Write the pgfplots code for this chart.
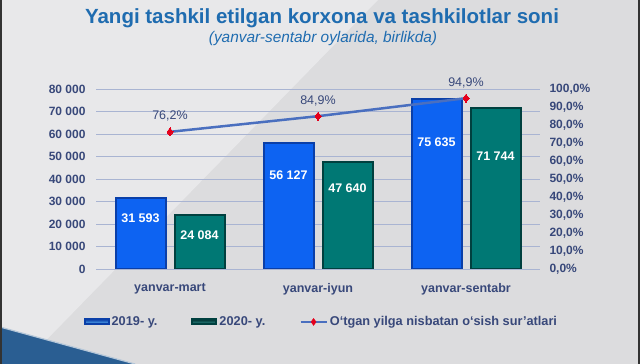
\documentclass[border=0pt]{standalone}
\usepackage{pgfplots}
\pgfplotsset{compat=1.18}
\usepackage{fontspec}
\setmainfont{Liberation Sans}
\definecolor{bg}{HTML}{DCDCDE}
\definecolor{bglight}{HTML}{E8E8EA}
\definecolor{deco}{HTML}{2A5E92}
\definecolor{titleblue}{HTML}{1F6CB0}
\definecolor{tickc}{HTML}{38487A}
\definecolor{gridc}{HTML}{A9B4D2}
\definecolor{blueface}{HTML}{0D63F2}
\definecolor{blueedge}{HTML}{0A3FA8}
\definecolor{tealface}{HTML}{007874}
\definecolor{tealedge}{HTML}{00403F}
\definecolor{linec}{HTML}{4A6FBF}
\definecolor{markc}{HTML}{E4001C}

\pgfplotstableread{
x y off
0 31593 -29.5
1 56127 -41.5
2 75635 -52.5
}\tabA
\pgfplotstableread{
x y off
0 24084 -29.5
1 47640 -35.5
2 71744 -57.5
}\tabB

\begin{document}
\begin{tikzpicture}
\useasboundingbox (0pt,0pt) rectangle (640pt,364pt);
\fill[bg] (0pt,0pt) rectangle (640pt,364pt);
\fill[bglight] (0pt,364pt) -- (378pt,364pt) -- (23pt,0pt) -- (0pt,0pt) -- cycle;
\fill[deco] (0pt,37pt) -- (135pt,0pt) -- (0pt,0pt) -- cycle;
\draw[white!65!deco, line width=1.2pt] (0pt,37pt) -- (135pt,0pt);
\fill[black!80] (0pt,0pt) rectangle (2pt,364pt);
\fill[black!80] (638pt,0pt) rectangle (640pt,364pt);
\node[font=\bfseries\fontsize{20.5}{23}\selectfont, text=titleblue] at (322pt,345.5pt) {Yangi tashkil etilgan korxona va tashkilotlar soni};
\node[font=\itshape\fontsize{15.4}{17}\selectfont, text=titleblue] at (323pt,325pt) {(yanvar-sentabr oylarida, birlikda)};

\begin{axis}[
  at={(96pt,95pt)}, anchor=south west,
  scale only axis, width=444pt, height=180pt,
  ybar=9pt, bar width=50pt,
  xmin=-0.5, xmax=2.5,
  ymin=0, ymax=80000,
  xtick={0,1,2},
  xticklabels={yanvar-mart,yanvar-iyun,yanvar-sentabr},
  ytick={0,10000,...,80000},
  scaled y ticks=false,
  /pgf/number format/assume math mode=true,
  /pgf/number format/1000 sep={\ },
  axis line style={draw=none},
  major tick length=0pt,
  ymajorgrids, grid style={gridc, line width=0.9pt},
  yticklabel style={font=\bfseries\fontsize{12}{14}\selectfont, text=tickc, xshift=-7pt},
  xticklabel style={font=\bfseries\fontsize{12.5}{14}\selectfont, text=tickc, yshift=-11pt},
  nodes near coords={\pgfmathprintnumber{\pgfplotspointmeta}},
  visualization depends on={\thisrow{off}\as\off},
  every node near coord/.append style={font=\bfseries\fontsize{12.5}{14}\selectfont, text=white, yshift=\off},
  legend columns=3,
  legend style={at={(-0.035,-0.294)}, anchor=west, draw=none, fill=none,
    font=\bfseries\fontsize{12.75}{14}\selectfont, text=tickc,
    /tikz/every even column/.append style={column sep=32pt},
    /tikz/every odd column/.append style={column sep=0pt}},
]
\addplot[fill=blueface, draw=blueedge, line width=2pt,
  legend image code/.code={\shade[top color=blueedge, bottom color=blue!40!cyan!60] (0pt,-2.5pt) rectangle (24pt,2.5pt);}]
  table[x=x,y=y] {\tabA};
\addlegendentry{2019- y.}
\addplot[fill=tealface, draw=tealedge, line width=2pt,
  legend image code/.code={\shade[top color=tealedge!80!black, bottom color=tealface!80] (0pt,-2.5pt) rectangle (24pt,2.5pt);}]
  table[x=x,y=y] {\tabB};
\addlegendentry{2020- y.}
\addlegendimage{legend image code/.code={
  \draw[linec, line width=2.5pt] (0pt,0pt) -- (26pt,0pt);
  \fill[markc] (13pt,3.5pt) -- (15.5pt,0pt) -- (13pt,-3.5pt) -- (10.5pt,0pt) -- cycle;}}
\addlegendentry{O‘tgan yilga nisbatan o‘sish sur’atlari}
\end{axis}

\begin{axis}[
  at={(96pt,95pt)}, anchor=south west,
  scale only axis, width=444pt, height=180pt,
  xmin=-0.5, xmax=2.5,
  ymin=0, ymax=100,
  hide x axis,
  axis y line*=right,
  axis line style={draw=none},
  major tick length=0pt,
  ytick={0,10,...,100},
  /pgf/number format/assume math mode=true,
  yticklabel={\pgfmathprintnumber[fixed,fixed zerofill,precision=1,use comma]{\tick}\%},
  yticklabel style={font=\bfseries\fontsize{12}{14}\selectfont, text=tickc, xshift=6pt},
]
\addplot[color=linec, line width=2.5pt, mark=diamond*, mark size=4pt,
  mark options={fill=markc, draw=markc, line width=0pt},
  nodes near coords={\pgfmathprintnumber[fixed,fixed zerofill,precision=1,use comma]{\pgfplotspointmeta}\%},
  every node near coord/.append style={font=\fontsize{12.5}{14}\selectfont, text=tickc, yshift=7pt}]
  coordinates {(0,76.2) (1,84.9) (2,94.9)};
\end{axis}
\end{tikzpicture}
\end{document}
